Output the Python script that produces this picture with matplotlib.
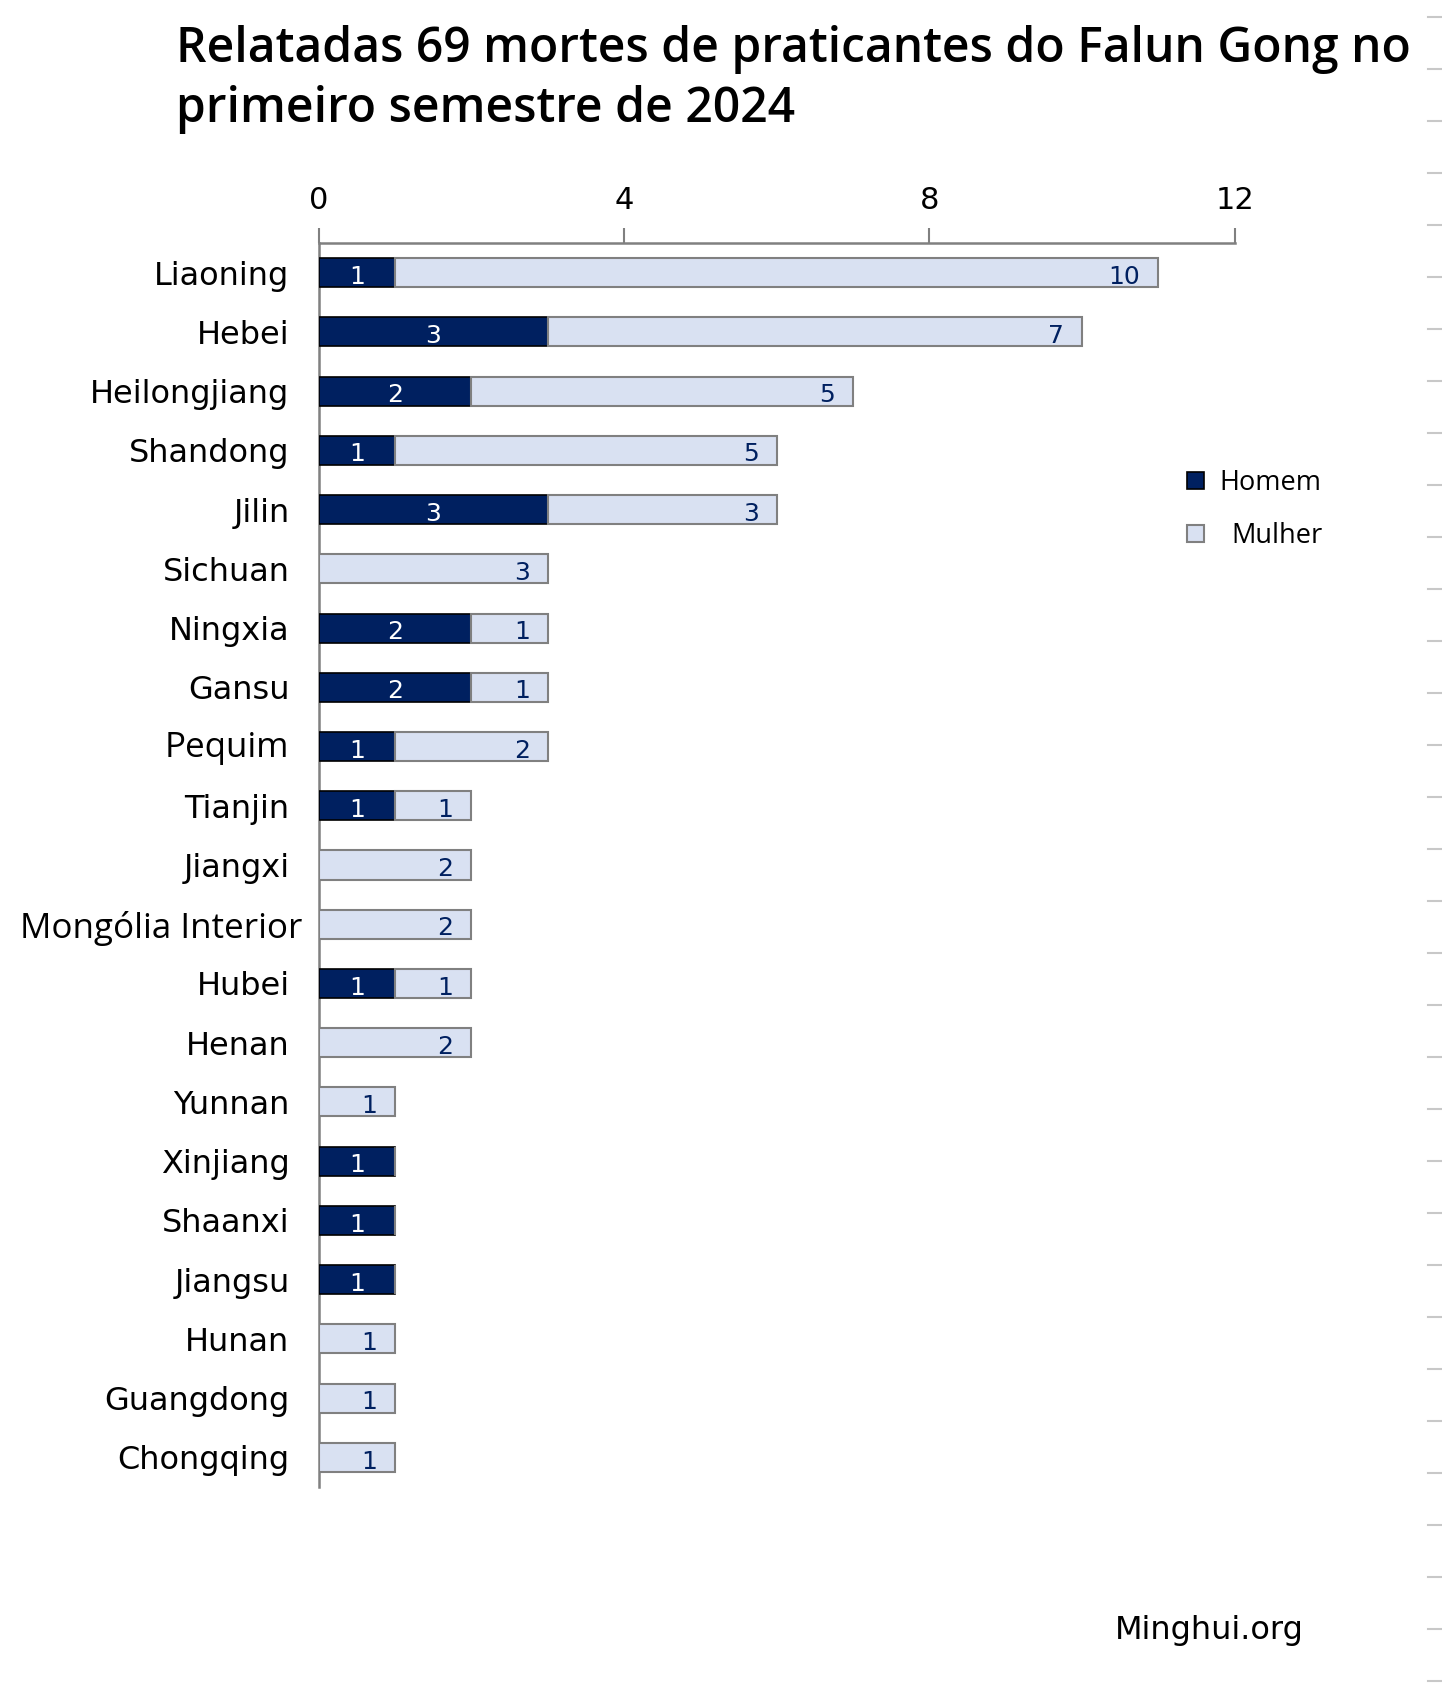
import matplotlib
matplotlib.use("Agg")
import matplotlib.pyplot as plt
import matplotlib.transforms as mtransforms
from matplotlib.patches import Patch
from matplotlib.lines import Line2D
import numpy as np

title = "Relatadas 69 mortes de praticantes do Falun Gong no\nprimeiro semestre de 2024"
categories = ["Liaoning", "Hebei", "Heilongjiang", "Shandong", "Jilin", "Sichuan",
              "Ningxia", "Gansu", "Pequim", "Tianjin", "Jiangxi", "Mongólia Interior",
              "Hubei", "Henan", "Yunnan", "Xinjiang", "Shaanxi", "Jiangsu", "Hunan",
              "Guangdong", "Chongqing"]
homem = [1, 3, 2, 1, 3, 0, 2, 2, 1, 1, 0, 0, 1, 0, 0, 1, 1, 1, 0, 0, 0]
mulher = [10, 7, 5, 5, 3, 3, 1, 1, 2, 1, 2, 2, 1, 2, 1, 0, 0, 0, 1, 1, 1]
series_names = ["Homem", "Mulher"]
xticks = [0, 4, 8, 12]
source = "Minghui.org"

DARK = "#002060"
LIGHT = "#D9E1F2"
GRAY = "#808080"
SEGOE = ["Open Sans", "DejaVu Sans"]
VERDANA = ["DejaVu Sans"]

W, H = 1442, 1694
fig = plt.figure(figsize=(W / 100, H / 100), dpi=100)
ax = fig.add_axes([318.7 / W, 1 - 1487 / H, (1234.7 - 318.7) / W, (1487 - 243) / H])

y = np.arange(len(categories))
h = np.array(homem)
m = np.array(mulher)

ax.barh(y, h, height=0.49, color=DARK, edgecolor="black", linewidth=1.2, zorder=3)
ax.barh(y, m, left=h, height=0.49, color=LIGHT, edgecolor=GRAY, linewidth=1.5, zorder=3)

for yi, hv, mv in zip(y, h, m):
    if hv > 0:
        ax.text(hv / 2, yi + 0.07, str(hv), ha="center", va="center", color="white",
                fontsize=18, family=VERDANA, zorder=4)
    if mv > 0:
        ax.annotate(str(mv), xy=(hv + mv, yi + 0.07), xytext=(-13, 0),
                    textcoords="offset points", ha="right", va="center",
                    color=DARK, fontsize=18, family=VERDANA, zorder=4)

ax.set_xlim(0, 12)
ax.set_ylim(len(categories) - 0.5, -0.5)
ax.xaxis.tick_top()
ax.set_xticks(xticks)
ax.set_xticklabels([str(t) for t in xticks], fontsize=22, family=VERDANA)
ax.tick_params(axis="x", direction="out", length=11, width=1.5, color=GRAY, pad=9)
ax.set_yticks(y)
ax.set_yticklabels(categories, fontsize=23, family=VERDANA)
ax.tick_params(axis="y", length=0, pad=21)
for sp in ["right", "bottom"]:
    ax.spines[sp].set_visible(False)
for sp in ["top", "left"]:
    ax.spines[sp].set_color(GRAY)
    ax.spines[sp].set_linewidth(1.8)

# two labels in the reference use a different typeface
for name in ["Pequim", "Mongólia Interior"]:
    lab = ax.get_yticklabels()[categories.index(name)]
    lab.set_family(SEGOE)
    lab.set_fontsize(25.2)
lab = ax.get_yticklabels()[categories.index("Mongólia Interior")]
lab.set_transform(lab.get_transform() + mtransforms.ScaledTranslation(13 / 100, 0, fig.dpi_scale_trans))
lab = ax.get_yticklabels()[categories.index("Pequim")]
lab.set_transform(lab.get_transform() + mtransforms.ScaledTranslation(0, 3 / 100, fig.dpi_scale_trans))

t1, t2 = title.split("\n")
fig.text(176 / W, 1 - 50 / H, t1, fontsize=34.6, family=SEGOE, weight="semibold",
         va="center", ha="left")
fig.text(176 / W, 1 - 110 / H, t2, fontsize=34.6, family=SEGOE, weight="semibold",
         va="center", ha="left")

handles = [Patch(facecolor=DARK, edgecolor="black", linewidth=1.2),
           Patch(facecolor=LIGHT, edgecolor=GRAY, linewidth=1.5)]
leg = fig.legend(handles, series_names, loc="upper left",
                 bbox_to_anchor=(1163 / W, 1 - 445 / H), frameon=False,
                 prop={"family": SEGOE, "size": 19.5}, handlelength=0.6,
                 handleheight=0.6, handletextpad=0.6, labelspacing=0.9)
mt = leg.get_texts()[1]
mt.set_transform(mt.get_transform() + mtransforms.ScaledTranslation(11 / 100, 0, fig.dpi_scale_trans))

fig.text(1115 / W, 1 - 1630 / H, source, fontsize=23, family=VERDANA, va="center", ha="left")

# decorative right-edge dashes
for yy in np.arange(17, H, 52):
    fig.add_artist(Line2D([1428 / W, 1442 / W], [1 - yy / H, 1 - yy / H],
                          color="#c8c8c8", linewidth=1.5, transform=fig.transFigure))

fig.savefig("out.png", dpi=100, facecolor="white")
